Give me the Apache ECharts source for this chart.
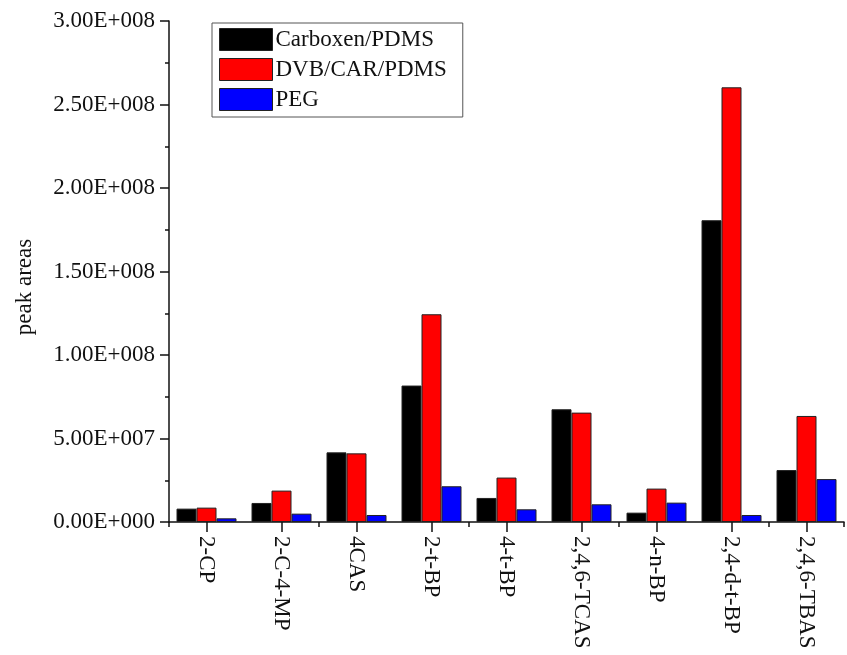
<!DOCTYPE html>
<html>
<head>
<meta charset="utf-8">
<script src="https://cdn.jsdelivr.net/npm/echarts@6/dist/echarts.min.js"></script>
<style>
html,body{margin:0;padding:0;background:#fff;}
#chart{width:847px;height:655px;}
</style>
</head>
<body>
<div id="chart"></div>
<script>
var categories = ['2-CP','2-C-4-MP','4CAS','2-t-BP','4-t-BP','2,4,6-TCAS','4-n-BP','2,4-d-t-BP','2,4,6-TBAS'];
var seriesNames = ['Carboxen/PDMS','DVB/CAR/PDMS','PEG'];
var carboxen = [8.0e6, 11.4e6, 41.7e6, 81.7e6, 14.4e6, 67.5e6, 5.6e6, 180.7e6, 31.1e6];
var dvbCar   = [8.6e6, 18.8e6, 41.1e6, 124.4e6, 26.6e6, 65.5e6, 20.0e6, 260.3e6, 63.5e6];
var peg      = [2.2e6, 5.0e6, 4.2e6, 21.4e6, 7.6e6, 10.6e6, 11.6e6, 4.2e6, 25.7e6];
var yTicks = [0, 5e7, 1e8, 1.5e8, 2e8, 2.5e8, 3e8];

var FONT = '"Liberation Serif","Times New Roman",serif';
var chart = echarts.init(document.getElementById('chart'), null, {renderer:'canvas'});

function fmt(v){
  if (v === 0) return '0.00E+000';
  var e = Math.floor(Math.log10(v) + 1e-9);
  var m = v / Math.pow(10, e);
  return m.toFixed(2) + 'E+' + String(e).padStart(3, '0');
}

var colors = ['#000000', '#ff0000', '#0000ff'];
var seriesData = [carboxen, dvbCar, peg];

chart.setOption({
  backgroundColor: '#ffffff',
  animation: false,
  textStyle: { fontFamily: FONT },
  grid: { left: 169, top: 21, width: 675, height: 501, containLabel: false },
  legend: {
    orient: 'vertical',
    left: 212, top: 23,
    padding: [5, 16, 6, 7],
    itemWidth: 53, itemHeight: 22, itemGap: 7,
    borderColor: '#555', borderWidth: 1,
    icon: 'rect',
    itemStyle: { borderColor: '#222', borderWidth: 1 },
    textStyle: { fontFamily: FONT, fontSize: 23, color: '#111', lineHeight: 22, padding: [0,0,0,-2] },
    data: seriesNames
  },
  xAxis: [{
    type: 'category',
    data: categories,
    boundaryGap: true,
    axisLine: { show: true, lineStyle: { color: '#111', width: 1.5 } },
    axisTick: { show: true, alignWithLabel: true, length: 10, lineStyle: { color: '#111', width: 1.5 } },
    axisLabel: { rotate: -90, margin: 14, fontFamily: FONT, fontSize: 23, color: '#111', interval: 0 },
    splitLine: { show: false }
  }, {
    type: 'category',
    data: categories,
    position: 'bottom',
    boundaryGap: true,
    axisLine: { show: false },
    axisTick: { show: true, alignWithLabel: false, length: 5, lineStyle: { color: '#111', width: 1.5 } },
    axisLabel: { show: false },
    splitLine: { show: false }
  }],
  yAxis: {
    type: 'value',
    min: 0, max: 3e8, interval: 5e7,
    axisLine: { show: true, lineStyle: { color: '#111', width: 1.5 } },
    axisTick: { show: true, inside: false, length: 9, lineStyle: { color: '#111', width: 1.5 } },
    minorTick: { show: true, splitNumber: 2, length: 4, lineStyle: { color: '#111', width: 1.5 } },
    axisLabel: { margin: 14, fontFamily: FONT, fontSize: 23, color: '#111', formatter: fmt },
    splitLine: { show: false }
  },
  graphic: [{
    type: 'text',
    x: 25, y: 287,
    rotation: Math.PI / 2,
    style: { text: 'peak areas', font: '23px ' + FONT, fill: '#111', align: 'center', verticalAlign: 'middle' }
  }],
  series: seriesNames.map(function(n, i){
    return {
      name: n, type: 'bar', xAxisIndex: 0,
      data: seriesData[i],
      barWidth: 20, barGap: '0%',
      itemStyle: { color: colors[i], borderColor: '#222', borderWidth: 1 }
    };
  })
});
</script>
</body>
</html>
